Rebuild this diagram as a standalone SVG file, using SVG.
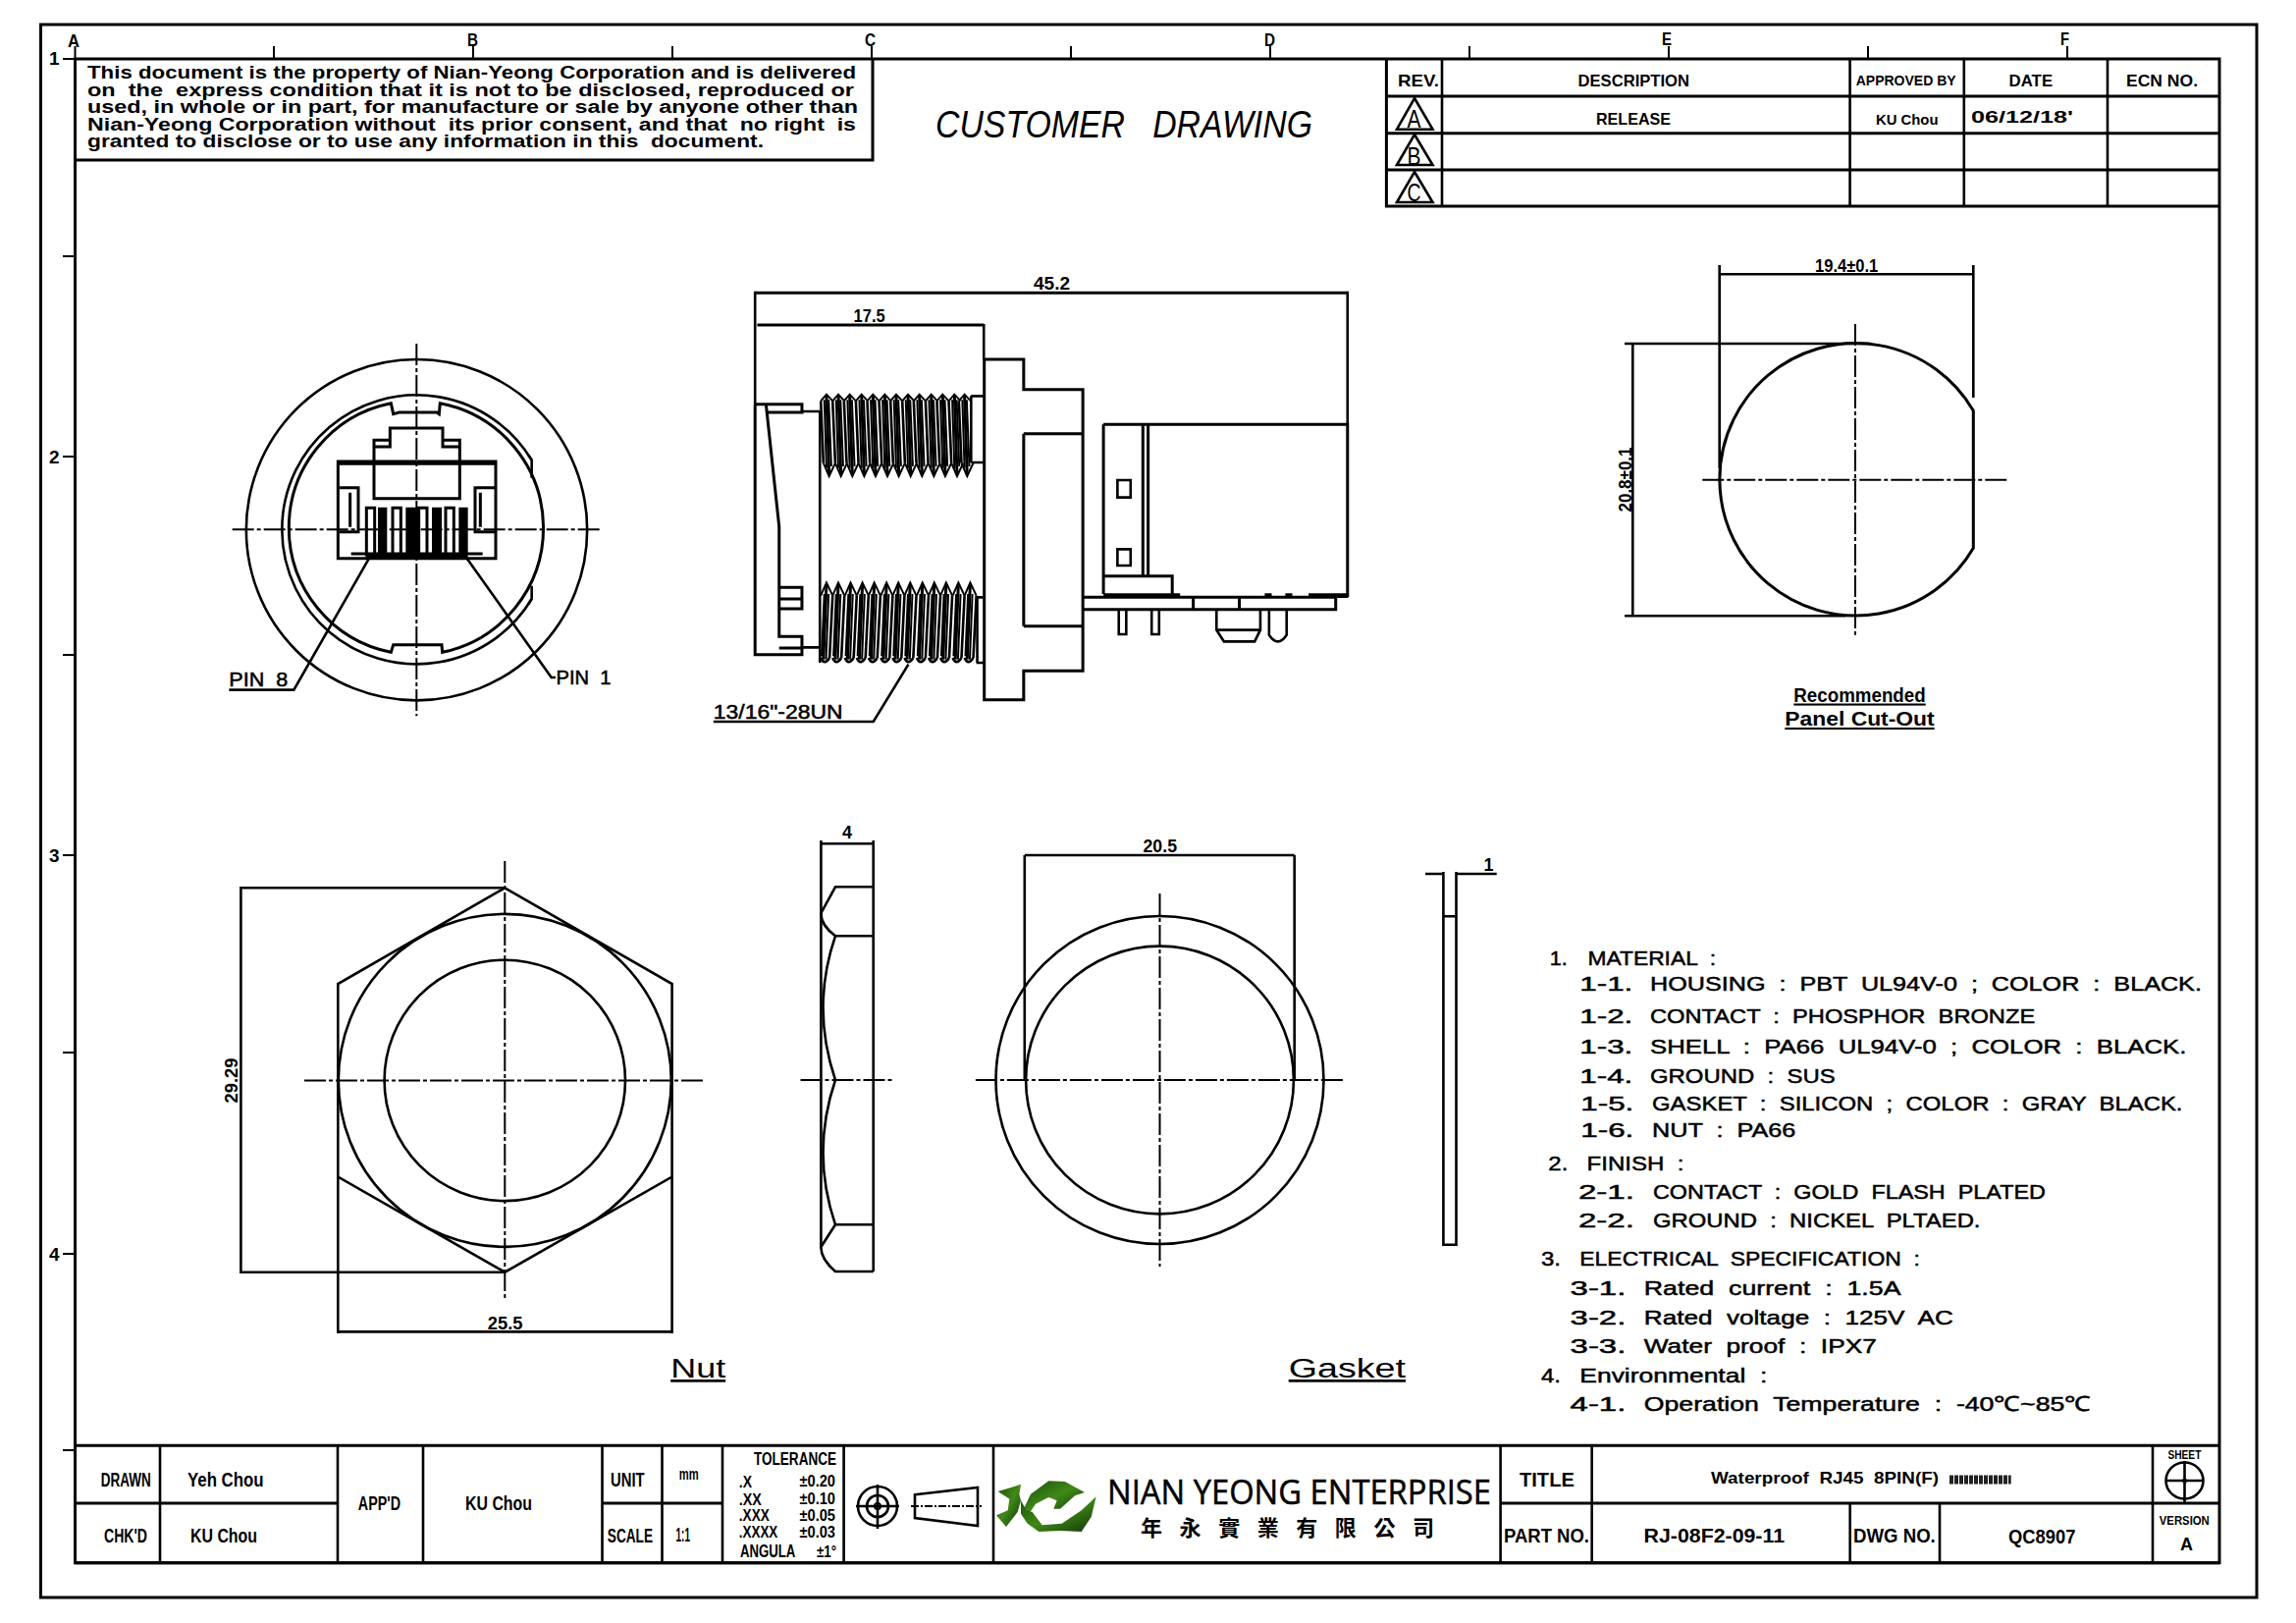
<svg xmlns="http://www.w3.org/2000/svg" xmlns:xlink="http://www.w3.org/1999/xlink" width="2339" height="1653" viewBox="0 0 2339 1653">
<style>
.l{fill:none;stroke:#000;stroke-width:2;vector-effect:non-scaling-stroke}
.m{fill:none;stroke:#000;stroke-width:2.6;vector-effect:non-scaling-stroke}
.h{fill:none;stroke:#000;stroke-width:3;vector-effect:non-scaling-stroke}
.c{fill:none;stroke:#000;stroke-width:2;stroke-dasharray:22 3 4 3;vector-effect:non-scaling-stroke}
.f{fill:#000;stroke:none}
text{font-family:"Liberation Sans",Arial,sans-serif;fill:#000;white-space:pre}
.t{font-weight:700;font-size:17px}
.b{font-weight:700;font-size:20px}
.n{font-weight:700;font-size:18px}
.d{font-size:18px;font-weight:700}
.p{font-size:20px;stroke:#000;stroke-width:.5}
.s{font-size:21px;stroke:#000;stroke-width:.5}
.u{font-size:27px}
.r{font-size:21px;font-weight:700}
</style>
<defs>
<linearGradient id="lg" x1="0" y1="0" x2="1" y2="1"><stop offset="0" stop-color="#1c4a0a"/><stop offset=".5" stop-color="#3f8a18"/><stop offset="1" stop-color="#123007"/></linearGradient>
<g id="t1"><path class="l" d="M0,415L13,395L27,415M6,605L19,645L33,605"/><path class="h" d="M13,397L19,640"/><path class="m" d="M0,415L6,605"/><path class="l" d="M8,412L13,620M18,412L24,615"/></g>
<g id="t2"><path class="l" d="M0,1010L13,970L27,1010"/><path class="h" d="M13,975L6,1205"/><path class="m" d="M27,1010L20,1200"/><path class="l" d="M8,1005L2,1195M18,1005L12,1205"/><path class="m" d="M0,1200Q8,1225 20,1200"/></g>
</defs>
<rect width="2339" height="1653" fill="#fff"/>

<g id="frame">
<rect class="h" x="41.5" y="25" width="2257.5" height="1602"/>
<rect class="h" x="76.5" y="60" width="2184.5" height="1531.7"/>
<path class="l" d="M76.5,47V60M279,47V60M482,47V60M685,47V60M888,47V60M1091,47V60M1294,47V60M1497,47V60M1700,47V60M1903,47V60M2106,47V60"/>
<path class="l" d="M64,60H76.5M64,261H76.5M64,465H76.5M64,667H76.5M64,871H76.5M64,1072H76.5M64,1277H76.5M64,1477H76.5"/>
<g class="t" style="font-size:19px">
<text x="69" y="48" textLength="12" lengthAdjust="spacingAndGlyphs">A</text>
<text x="476" y="47" textLength="11" lengthAdjust="spacingAndGlyphs">B</text>
<text x="881" y="47" textLength="11" lengthAdjust="spacingAndGlyphs">C</text>
<text x="1288" y="47" textLength="11" lengthAdjust="spacingAndGlyphs">D</text>
<text x="1693" y="46" textLength="10" lengthAdjust="spacingAndGlyphs">E</text>
<text x="2099" y="46" textLength="9" lengthAdjust="spacingAndGlyphs">F</text>
<text x="50" y="66">1</text><text x="50" y="472">2</text><text x="50" y="878">3</text><text x="50" y="1284">4</text>
</g>
</g>

<g id="notice">
<path class="h" d="M76.5,163H889V60"/>
<g class="n">
<text x="89" y="80" textLength="783" lengthAdjust="spacingAndGlyphs">This document is the property of Nian-Yeong Corporation and is delivered</text>
<text x="89" y="98" textLength="781" lengthAdjust="spacingAndGlyphs">on  the  express condition that it is not to be disclosed, reproduced or</text>
<text x="89" y="115" textLength="785" lengthAdjust="spacingAndGlyphs">used, in whole or in part, for manufacture or sale by anyone other than</text>
<text x="89" y="133" textLength="783" lengthAdjust="spacingAndGlyphs">Nian-Yeong Corporation without  its prior consent, and that  no right  is</text>
<text x="89" y="150" textLength="689" lengthAdjust="spacingAndGlyphs">granted to disclose or to use any information in this  document.</text>
</g>
</g>
<text id="heading" x="953" y="139.5" font-size="38.5" font-style="italic" textLength="384" lengthAdjust="spacingAndGlyphs">CUSTOMER   DRAWING</text>

<g id="revisions">
<path class="h" d="M1412.4,60V210H2262M1412.4,98H2262M1412.4,135.7H2262M1412.4,173H2262"/>
<path class="m" d="M1469,60V210M1884.6,60V210M2000.8,60V210M2147,60V210"/>
<path class="m" d="M1441,100L1459.5,131.7H1423ZM1441,137L1459.5,168H1423ZM1441,175L1459.5,206H1423Z"/>
<g class="t">
<text x="1424" y="88" textLength="42" lengthAdjust="spacingAndGlyphs">REV.</text>
<text x="1607.5" y="88" textLength="113.5" lengthAdjust="spacingAndGlyphs">DESCRIPTION</text>
<text x="1890.7" y="87" style="font-size:14px" textLength="102" lengthAdjust="spacingAndGlyphs">APPROVED BY</text>
<text x="2046.6" y="88" textLength="44.5" lengthAdjust="spacingAndGlyphs">DATE</text>
<text x="2166" y="88" textLength="73" lengthAdjust="spacingAndGlyphs">ECN NO.</text>
<text x="1626" y="127" textLength="76" lengthAdjust="spacingAndGlyphs">RELEASE</text>
<text x="1911" y="127" style="font-size:15px" textLength="63.5" lengthAdjust="spacingAndGlyphs">KU Chou</text>
<text x="2008" y="125" textLength="104" lengthAdjust="spacingAndGlyphs">06/12/18'</text>
</g>
<g style="font-size:25px">
<text x="1433.5" y="130" textLength="14" lengthAdjust="spacingAndGlyphs">A</text>
<text x="1433.5" y="168" textLength="14" lengthAdjust="spacingAndGlyphs">B</text>
<text x="1433.5" y="205" textLength="14" lengthAdjust="spacingAndGlyphs">C</text>
</g>
</g>

<g id="front-view" transform="translate(210,340) scale(.33333)">
<circle class="m" cx="643.5" cy="599" r="521"/>
<path class="m" d="M985,370L995,386V440M995,770V810L985,826"/>
<path class="m" d="M995,386A411,411 0 1 0 995,810"/>
<path class="h" d="M715,212A388,388 0 0 1 722,973L720,950H572L565,973A388,388 0 0 1 565,212L572,245L590,240H705L712,245Z"/>
<path class="h" d="M403,390H885V686H403ZM403,397H513M775,397H885"/>
<path class="h" d="M513,503V325H562V288H723V325H775V503ZM513,345H562V325M723,325V345H775M513,397H775"/>
<path class="h" d="M408,470H465V605H408M440,485V590M885,470H822V605H885M838,485V590"/>
<path class="h" d="M490,680V532H515V680M570,680V532H595V680M650,680V532H675V680M732,680V532H757V680M443,672H845"/>
<path class="f" d="M525,530h28v150h-28zM610,530h40v150h-40zM690,530h30v150h-30zM772,530h28v150h-28zM490,672h310v14h-310z"/>
<path class="c" d="M80,598H1205M643,30V1168"/>
<path class="m" d="M70,1088H268L498,686M797,686L1055,1050H1068"/>
</g>
<text class="p" x="233.3" y="699" textLength="60" lengthAdjust="spacingAndGlyphs">PIN  8</text>
<text class="p" x="566.5" y="697" textLength="56" lengthAdjust="spacingAndGlyphs">PIN  1</text>

<g id="side-view" transform="translate(700,270) scale(.44643,.33333)">
<path class="m" d="M155,80V425M1507,80V487M677,180V288"/>
<path class="h" d="M155,85H1507M160,183H677"/>
<path class="h" d="M678,288H768V380H903V1240H768V1328H678ZM768,515H903M768,1103H903M768,515V1103"/>
<path class="h" d="M155,425H262V450H180M155,425V1190H262V1135H210V800L180,425M210,1170H262M210,800V1135M210,985H262V1050H210M210,1020H262"/>
<path class="m" d="M262,447H303M262,1168H303M303,447V1215"/>
<use href="#t1" x="305"/><use href="#t1" x="332"/><use href="#t1" x="358"/><use href="#t1" x="385"/><use href="#t1" x="411"/><use href="#t1" x="438"/><use href="#t1" x="464"/><use href="#t1" x="491"/><use href="#t1" x="517"/><use href="#t1" x="544"/><use href="#t1" x="570"/><use href="#t1" x="597"/><use href="#t1" x="620"/>
<use href="#t2" x="305"/><use href="#t2" x="332"/><use href="#t2" x="360"/><use href="#t2" x="387"/><use href="#t2" x="414"/><use href="#t2" x="442"/><use href="#t2" x="469"/><use href="#t2" x="496"/><use href="#t2" x="524"/><use href="#t2" x="551"/><use href="#t2" x="578"/><use href="#t2" x="606"/><use href="#t2" x="633"/>
<path class="m" d="M648,400H678M648,603H678M648,400V603M660,1015H678M660,1215H678M662,1015V1215"/>
<path class="h" d="M950,487H1507V1015M950,487V1005"/>
<path class="h" d="M1040,487V950M1052,487V950M950,950H1107V1005"/>
<rect class="m" x="982" y="657" width="30" height="53"/><rect class="m" x="982" y="868" width="30" height="50"/>
<path class="h" d="M903,1015H1480V1052H903M1155,1015V1052M1260,1015V1052"/>
<path class="f" d="M950,1003H1125V1015H950ZM1318,1003h16v12h-16ZM1365,1003h16v12h-16ZM1418,1003h90v14h-90Z"/>
<path class="m" d="M985,1055V1128H1002V1055M1060,1055V1128H1077V1055"/>
<path class="m" d="M1208,1055V1115L1225,1150H1295L1308,1115V1055M1208,1115H1308M1328,1055V1130Q1348,1170 1368,1130V1055"/>
<path class="m" d="M60,1395H425L505,1220"/>
</g>
<text class="d" x="1053" y="295" textLength="37" lengthAdjust="spacingAndGlyphs">45.2</text>
<text class="d" x="869.6" y="327.5" textLength="32" lengthAdjust="spacingAndGlyphs">17.5</text>
<text class="p" x="726.8" y="731.5" textLength="131.7" lengthAdjust="spacingAndGlyphs">13/16"-28UN</text>

<g id="cutout">
<path class="h" d="M2010.3,418.3A138.7,138.7 0 1 0 2010.3,558.3Z"/>
<path class="c" d="M1734.3,488.7H2046.7M1890,330V646.7"/>
<path class="m" d="M1751.7,270V476.7M2010.3,270V405M1751.7,279.3H2010.3M1663.3,350V627.3M1655,350H1906M1655,627.3H1880"/>
<text class="d" x="1849" y="277" textLength="64.3" lengthAdjust="spacingAndGlyphs">19.4±0.1</text>
<text class="d" transform="translate(1661.5,521.5) rotate(-90)" textLength="66" lengthAdjust="spacingAndGlyphs">20.8±0.1</text>
<text class="r" x="1827.3" y="714.5" textLength="134.4" lengthAdjust="spacingAndGlyphs" text-decoration="underline">Recommended</text>
<text class="r" x="1818.3" y="739" textLength="152.4" lengthAdjust="spacingAndGlyphs" text-decoration="underline">Panel Cut-Out</text>
</g>

<g id="nut">
<path class="m" d="M514.3,904.3L684.6,1002V1198.6L514.3,1295.7L344.3,1198.6V1002Z"/>
<circle class="m" cx="514.3" cy="1100.4" r="169.5"/>
<circle class="m" cx="514.3" cy="1100.4" r="122.7"/>
<path class="c" d="M310,1100.4H719M514.3,877V1323.6"/>
<path class="m" d="M244,904.3H514M244,1295.7H514M245.4,904.3V1295.7M344.3,1198V1358M684.6,1198V1358M344.3,1356.4H684.6"/>
<text class="d" transform="translate(242,1123.5) rotate(-90)" textLength="46" lengthAdjust="spacingAndGlyphs">29.29</text>
<text class="d" x="496.8" y="1353.5" textLength="35.7" lengthAdjust="spacingAndGlyphs">25.5</text>
<text class="u" x="683.2" y="1403" textLength="56" lengthAdjust="spacingAndGlyphs" text-decoration="underline">Nut</text>
</g>

<g id="nut-side">
<path class="m" d="M836.4,856V1270M889.7,856V1295M836.4,859.3H889.7"/>
<path class="m" d="M889.7,903.3H851L836.4,930Q836,942 851,953.3H889.7M851,953.3Q826,1026 851,1100Q826,1174 851,1247.3H889.7M851,1247.3L836.4,1270Q836,1282 851,1295H889.7"/>
<path class="c" d="M815.5,1100H909"/>
<text class="d" x="858" y="854" textLength="10" lengthAdjust="spacingAndGlyphs">4</text>
</g>

<g id="gasket">
<circle class="m" cx="1181.5" cy="1100" r="167"/>
<circle class="m" cx="1181.5" cy="1100" r="136.4"/>
<path class="c" d="M993.9,1100H1369.6M1181.5,910V1290"/>
<path class="m" d="M1043.8,871V1100M1318.7,871V1100M1043.8,871H1318.7"/>
<text class="d" x="1164.5" y="868" textLength="34.5" lengthAdjust="spacingAndGlyphs">20.5</text>
<path class="m" d="M1470.4,888V1267.7H1483.5V888M1470.4,933.3H1483.5M1452,890H1470.4M1483.5,890H1524.7"/>
<text class="d" x="1511.5" y="886.5" textLength="10" lengthAdjust="spacingAndGlyphs">1</text>
<text class="u" x="1312.7" y="1403" textLength="119.3" lengthAdjust="spacingAndGlyphs" text-decoration="underline">Gasket</text>
</g>

<g id="specs" class="s">
<text x="1578.8" y="983.3" textLength="18" lengthAdjust="spacingAndGlyphs">1.</text><text x="1617.5" y="983.3" textLength="130.5" lengthAdjust="spacingAndGlyphs">MATERIAL  :</text>
<text x="1609.3" y="1009" textLength="54" lengthAdjust="spacingAndGlyphs">1-1.</text><text x="1681" y="1009" textLength="561.9" lengthAdjust="spacingAndGlyphs">HOUSING  :  PBT  UL94V-0  ;  COLOR  :  BLACK.</text>
<text x="1609.3" y="1041.7" textLength="54" lengthAdjust="spacingAndGlyphs">1-2.</text><text x="1681" y="1041.7" textLength="392.2" lengthAdjust="spacingAndGlyphs">CONTACT  :  PHOSPHOR  BRONZE</text>
<text x="1609.3" y="1072.7" textLength="54" lengthAdjust="spacingAndGlyphs">1-3.</text><text x="1681" y="1072.7" textLength="546.3" lengthAdjust="spacingAndGlyphs">SHELL  :  PA66  UL94V-0  ;  COLOR  :  BLACK.</text>
<text x="1609.3" y="1102.7" textLength="54" lengthAdjust="spacingAndGlyphs">1-4.</text><text x="1681" y="1102.7" textLength="188.6" lengthAdjust="spacingAndGlyphs">GROUND  :  SUS</text>
<text x="1610.3" y="1131" textLength="54" lengthAdjust="spacingAndGlyphs">1-5.</text><text x="1683" y="1131" textLength="540.5" lengthAdjust="spacingAndGlyphs">GASKET  :  SILICON  ;  COLOR  :  GRAY  BLACK.</text>
<text x="1610.3" y="1157.7" textLength="54" lengthAdjust="spacingAndGlyphs">1-6.</text><text x="1683" y="1157.7" textLength="146.4" lengthAdjust="spacingAndGlyphs">NUT  :  PA66</text>
<text x="1577.3" y="1191.7" textLength="20" lengthAdjust="spacingAndGlyphs">2.</text><text x="1616.6" y="1191.7" textLength="98.9" lengthAdjust="spacingAndGlyphs">FINISH  :</text>
<text x="1607.9" y="1220.7" textLength="57" lengthAdjust="spacingAndGlyphs">2-1.</text><text x="1684" y="1220.7" textLength="399.9" lengthAdjust="spacingAndGlyphs">CONTACT  :  GOLD  FLASH  PLATED</text>
<text x="1607.9" y="1250" textLength="57" lengthAdjust="spacingAndGlyphs">2-2.</text><text x="1684" y="1250" textLength="333.5" lengthAdjust="spacingAndGlyphs">GROUND  :  NICKEL  PLTAED.</text>
<text x="1570" y="1289.3" textLength="20" lengthAdjust="spacingAndGlyphs">3.</text><text x="1609.3" y="1289.3" textLength="346.6" lengthAdjust="spacingAndGlyphs">ELECTRICAL  SPECIFICATION  :</text>
<text x="1599.6" y="1319" textLength="56.7" lengthAdjust="spacingAndGlyphs">3-1.</text><text x="1674.8" y="1319" textLength="261.7" lengthAdjust="spacingAndGlyphs">Rated  current  :  1.5A</text>
<text x="1599.6" y="1348.7" textLength="56.7" lengthAdjust="spacingAndGlyphs">3-2.</text><text x="1674.8" y="1348.7" textLength="315" lengthAdjust="spacingAndGlyphs">Rated  voltage  :  125V  AC</text>
<text x="1599.6" y="1378.3" textLength="56.7" lengthAdjust="spacingAndGlyphs">3-3.</text><text x="1674.8" y="1378.3" textLength="237" lengthAdjust="spacingAndGlyphs">Water  proof  :  IPX7</text>
<text x="1570" y="1407.7" textLength="20" lengthAdjust="spacingAndGlyphs">4.</text><text x="1609.3" y="1407.7" textLength="191" lengthAdjust="spacingAndGlyphs">Environmental  :</text>
<text x="1599.6" y="1437.3" textLength="56.7" lengthAdjust="spacingAndGlyphs">4-1.</text><text x="1674.8" y="1437.3" textLength="455.2" lengthAdjust="spacingAndGlyphs">Operation  Temperature  :  -40℃~85℃</text>
</g>

<g id="title-block">
<path class="h" d="M76.5,1472.3H2261M76.5,1591.7H2261M76.5,1531H344M613.5,1531H736M1528.6,1531H2261"/>
<path class="m" d="M163,1472V1592M344,1472V1592M431,1472V1592M613.5,1472V1592M674.5,1472V1592M736,1472V1592M859.6,1472V1592M1012,1472V1592M1528.6,1472V1592M1621.7,1472V1592M1884.7,1531V1592M1976,1531V1592M2193,1472V1592"/>
<g class="b">
<text x="102.8" y="1514" textLength="51" lengthAdjust="spacingAndGlyphs">DRAWN</text>
<text x="191" y="1514" textLength="77.6" lengthAdjust="spacingAndGlyphs">Yeh Chou</text>
<text x="106" y="1570.7" textLength="44" lengthAdjust="spacingAndGlyphs">CHK'D</text>
<text x="194" y="1570.7" textLength="68" lengthAdjust="spacingAndGlyphs">KU Chou</text>
<text x="364.8" y="1537.7" textLength="43.2" lengthAdjust="spacingAndGlyphs">APP'D</text>
<text x="474" y="1537.7" textLength="68" lengthAdjust="spacingAndGlyphs">KU Chou</text>
<text x="622" y="1514" textLength="34.6" lengthAdjust="spacingAndGlyphs">UNIT</text>
<text x="691.8" y="1506.7" style="font-size:16px" textLength="19.9" lengthAdjust="spacingAndGlyphs">mm</text>
<text x="618.8" y="1570.7" textLength="46.2" lengthAdjust="spacingAndGlyphs">SCALE</text>
<text x="688.5" y="1570" textLength="14.5" lengthAdjust="spacingAndGlyphs">1:1</text>
<text x="768" y="1492.3" style="font-size:19px" textLength="84" lengthAdjust="spacingAndGlyphs">TOLERANCE</text>
<g style="font-size:16px">
<text x="752.8" y="1515" textLength="13.2" lengthAdjust="spacingAndGlyphs">.X</text>
<text x="752.8" y="1532.7" textLength="23" lengthAdjust="spacingAndGlyphs">.XX</text>
<text x="752.8" y="1549.3" textLength="31" lengthAdjust="spacingAndGlyphs">.XXX</text>
<text x="752.8" y="1566" textLength="39.5" lengthAdjust="spacingAndGlyphs">.XXXX</text>
<text x="814.5" y="1514" textLength="36.5" lengthAdjust="spacingAndGlyphs">±0.20</text>
<text x="814.5" y="1531.5" textLength="36.5" lengthAdjust="spacingAndGlyphs">±0.10</text>
<text x="814.5" y="1548.5" textLength="36.5" lengthAdjust="spacingAndGlyphs">±0.05</text>
<text x="814.5" y="1565.5" textLength="36.5" lengthAdjust="spacingAndGlyphs">±0.03</text>
<text x="832" y="1586" textLength="20" lengthAdjust="spacingAndGlyphs">±1°</text>
</g>
<text x="754" y="1586" style="font-size:18px" textLength="56.4" lengthAdjust="spacingAndGlyphs">ANGULA</text>
<text x="1548" y="1514" textLength="55.8" lengthAdjust="spacingAndGlyphs">TITLE</text>
<text x="1743" y="1510.7" style="font-size:17px" textLength="232" lengthAdjust="spacingAndGlyphs">Waterproof  RJ45  8PIN(F)</text>
<text x="1532" y="1570.7" textLength="87" lengthAdjust="spacingAndGlyphs">PART NO.</text>
<text x="1674.6" y="1570.7" textLength="143.4" lengthAdjust="spacingAndGlyphs">RJ-08F2-09-11</text>
<text x="1888" y="1570.7" textLength="83.8" lengthAdjust="spacingAndGlyphs">DWG NO.</text>
<text x="2046" y="1571.7" textLength="68.4" lengthAdjust="spacingAndGlyphs">QC8907</text>
<text x="2208.4" y="1486" style="font-size:12px" textLength="34" lengthAdjust="spacingAndGlyphs">SHEET</text>
<text x="2199.8" y="1552.7" style="font-size:12px" textLength="51" lengthAdjust="spacingAndGlyphs">VERSION</text>
<text x="2221" y="1579" style="font-size:18px" textLength="13" lengthAdjust="spacingAndGlyphs">A</text>
</g>
<path d="M1986,1507H2048.7" stroke="#222" stroke-width="9" stroke-dasharray="4 1" fill="none"/>
<g id="projection">
<circle class="m" cx="894" cy="1534" r="20"/><circle class="m" cx="894" cy="1534" r="11"/><circle class="l" cx="894" cy="1534" r="3"/>
<path class="m" d="M872,1534H916M894,1512V1557"/>
<path class="m" d="M932,1522.3L996,1515V1554L932,1546Z"/>
<path class="c" style="stroke-dasharray:8 2 2 2" d="M928,1534H1000"/>
</g>
<g id="sheet-symbol">
<ellipse class="m" cx="2225.5" cy="1508" rx="19" ry="18.5"/>
<path class="m" d="M2206,1508H2245M2225.5,1488V1530"/>
<circle class="f" cx="2225.5" cy="1508" r="2.5"/>
</g>
<g id="logo" transform="translate(1005,1495) scale(.33333)" fill="url(#lg)" stroke="none">
<path d="M35,72L75,60L105,50L100,80L105,100L95,135L60,180L30,145L65,130L70,95Z"/>
<path d="M135,80L190,40L240,42L300,75L270,85L225,125L205,125L215,100L190,90L150,110L130,140L115,122Z"/>
<path d="M105,100L122,130L140,135L170,175L230,170L290,130L335,88L320,150L290,195L225,192L160,195L125,170L105,140Z"/>
</g>
<text id="company" x="1128" y="1531.7" style="font-family:'Open Sans','Liberation Sans',sans-serif;stroke:#000;stroke-width:.5" font-size="34" textLength="391" lengthAdjust="spacingAndGlyphs">NIAN YEONG ENTERPRISE</text>
<text id="company-cjk" x="1162" y="1564" style="font-family:'Noto Sans CJK TC','Noto Sans CJK SC',sans-serif;font-weight:700" font-size="22" textLength="299" lengthAdjust="spacing">年永實業有限公司</text>
</g>
</svg>
